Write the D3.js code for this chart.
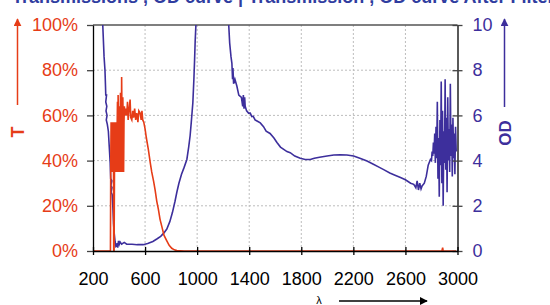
<!DOCTYPE html>
<html>
<head>
<meta charset="utf-8">
<script src="https://cdn.jsdelivr.net/npm/d3@7/dist/d3.min.js"></script>
<style>
  body { margin: 0; background: #fff; }
  svg { font-family: "Liberation Sans", Arial, sans-serif; }
</style>
</head>
<body>
<svg id="chart" width="550" height="305"></svg>
<script>
// wavelength ticks and axis labels
var xTicks = [200, 600, 1000, 1400, 1800, 2200, 2600, 3000]
var tTicks = [0, 0.2, 0.4, 0.6, 0.8, 1]
var odTicks = [0, 2, 4, 6, 8, 10]
var title = 'Transmissions , OD curve | Transmission , OD curve After Filter'

// transmission T (fraction)
var tLambda = [200, 334, 336, 339, 342, 345, 348, 351, 354, 357, 359, 362, 365, 368, 371, 374, 377, 380, 383, 386, 388, 390, 393, 396, 399, 402, 405, 408, 411, 414, 417, 420, 423, 426, 429, 432, 435, 438, 441, 446, 452, 459, 465, 470, 478, 485, 490, 498, 505, 512, 520, 528, 536, 545, 552, 562, 570, 576, 582, 590, 600, 610, 625, 640, 651, 665, 677, 690, 702, 715, 728, 745, 767, 785, 805, 825, 844, 900, 2880, 2886, 2890, 2990]
var tValue = [0, 0, 0.35, 0.57, 0.35, 0.57, 0.35, 0.57, 0.35, 0.57, 0, 0, 0.35, 0.57, 0.35, 0.57, 0.35, 0.57, 0.35, 0.57, 0.66, 0.35, 0.69, 0.57, 0.35, 0.64, 0.57, 0.35, 0.70, 0.58, 0.35, 0.77, 0.57, 0.35, 0.68, 0.57, 0.35, 0.57, 0.64, 0.60, 0.63, 0.60, 0.66, 0.58, 0.63, 0.67, 0.59, 0.58, 0.62, 0.59, 0.63, 0.58, 0.61, 0.57, 0.62, 0.61, 0.58, 0.62, 0.58, 0.57, 0.54, 0.50, 0.45, 0.39, 0.35, 0.31, 0.27, 0.22, 0.185, 0.14, 0.11, 0.07, 0.045, 0.025, 0.012, 0.005, 0.002, 0, 0, 0.015, 0, 0]

// optical density OD
var odLambda = [262, 275, 285, 292, 296, 298, 304, 298, 306, 300, 308, 302, 310, 318, 325, 332, 336, 345, 337, 346, 338, 347, 352, 358, 362, 370, 376, 382, 386, 390, 396, 402, 408, 420, 440, 459, 500, 540, 585, 620, 660, 690, 720, 745, 767, 790, 810, 830, 844, 860, 880, 900, 921, 935, 946, 955, 962, 967, 975, 980, 985, 992, 1000, 1230, 1238, 1250, 1260, 1267, 1272, 1275, 1280, 1290, 1305, 1320, 1340, 1350, 1355, 1360, 1365, 1369, 1380, 1395, 1408, 1420, 1431, 1445, 1460, 1485, 1510, 1530, 1560, 1590, 1613, 1640, 1665, 1690, 1715, 1750, 1792, 1830, 1869, 1900, 1940, 1998, 2050, 2100, 2150, 2202, 2250, 2305, 2350, 2400, 2433, 2480, 2520, 2562, 2600, 2640, 2664, 2680, 2690, 2700, 2710, 2720, 2728, 2745, 2760, 2775, 2792, 2800, 2805, 2810, 2815, 2820, 2825, 2830, 2835, 2840, 2845, 2850, 2855, 2860, 2865, 2870, 2875, 2880, 2885, 2890, 2895, 2900, 2905, 2910, 2915, 2920, 2925, 2930, 2935, 2940, 2945, 2950, 2955, 2960, 2965, 2970, 2975, 2980, 2985, 2990]
var odValue = [11, 10, 8.6, 8.0, 7.3, 6.9, 6.9, 6.6, 6.4, 6.2, 6.0, 5.8, 5.6, 5.3, 4.6, 3.9, 3.2, 3.1, 2.9, 2.8, 2.6, 2.5, 2.0, 1.2, 0.84, 0.4, 0.2, 0.23, 0.35, 0.15, 0.45, 0.3, 0.4, 0.3, 0.38, 0.3, 0.3, 0.28, 0.28, 0.33, 0.42, 0.53, 0.65, 0.8, 0.97, 1.3, 1.7, 2.2, 2.6, 3.0, 3.4, 3.7, 4.05, 4.6, 5.1, 5.7, 6.2, 6.56, 7.6, 8.4, 9.3, 10.2, 12, 12, 10.5, 9.2, 8.6, 8.3, 7.6, 8.1, 7.4, 7.6, 7.3, 6.9, 6.8, 6.4, 6.9, 6.3, 6.8, 6.4, 6.2, 6.1, 6.1, 5.95, 5.96, 5.8, 5.75, 5.67, 5.5, 5.3, 5.2, 5.0, 4.8, 4.6, 4.5, 4.4, 4.35, 4.2, 4.1, 4.05, 4.05, 4.1, 4.15, 4.2, 4.25, 4.26, 4.25, 4.2, 4.1, 3.98, 3.85, 3.7, 3.6, 3.45, 3.35, 3.25, 3.15, 3.0, 2.95, 2.8, 3.1, 2.7, 3.0, 2.75, 2.88, 3.0, 3.3, 3.8, 4.05, 4.0, 4.4, 4.2, 4.8, 4.3, 5.2, 3.9, 5.5, 4.1, 6.6, 3.2, 5.0, 2.4, 5.8, 3.8, 7.5, 3.0, 6.2, 2.0, 5.3, 3.9, 7.6, 3.6, 5.9, 2.6, 6.8, 4.0, 5.4, 3.5, 7.4, 4.2, 5.6, 3.3, 5.9, 4.1, 5.2, 3.4, 5.5, 4.4]

var red = '#e63c17'
var blue = '#3d2f9c'
var margin = { top: 25, right: 93, bottom: 53, left: 93 }
var width = 550, height = 305

var svg = d3.select('#chart')

var xScale = d3.scaleLinear()
  .domain([200, 3000])
  .range([margin.left, width - margin.right + 0.5])

var tScale = d3.scaleLinear()
  .domain([0, 1])
  .range([height - margin.bottom - 1, margin.top])

var odScale = d3.scaleLinear()
  .domain([0, 10])
  .range([height - margin.bottom - 1, margin.top])

var x0 = xScale.range()[0], x1 = xScale.range()[1]
var y0 = tScale.range()[0], y1 = tScale.range()[1]

// grid
var grid = svg.append('g').attr('class', 'grid')
  .style('stroke', '#bdbdbd').style('stroke-dasharray', '2,2')
grid.selectAll('.gx').data(xTicks.slice(1, -1)).enter().append('line')
  .attr('x1', d => xScale(d)).attr('x2', d => xScale(d))
  .attr('y1', y1).attr('y2', y0)
grid.selectAll('.gy').data(tTicks.slice(1, -1)).enter().append('line')
  .attr('x1', x0).attr('x2', x1)
  .attr('y1', d => tScale(d)).attr('y2', d => tScale(d))

// top border
svg.append('line')
  .attr('x1', x0).attr('x2', x1).attr('y1', y1).attr('y2', y1)
  .style('stroke', '#555').style('stroke-width', 1.5)

svg.append('clipPath').attr('id', 'plot')
  .append('rect').attr('x', x0).attr('y', y1).attr('width', x1 - x0).attr('height', y0 - y1)

// curves
var odLine = d3.line()
  .x((d, i) => xScale(odLambda[i]))
  .y(d => odScale(d))
var tLine = d3.line()
  .x((d, i) => xScale(tLambda[i]))
  .y(d => tScale(d))

var lines = svg.append('g').attr('clip-path', 'url(#plot)')
lines.append('path')
  .datum(odValue)
  .attr('d', odLine)
  .style('fill', 'none').style('stroke', blue).style('stroke-width', 1.6)
lines.append('path')
  .datum(tValue)
  .attr('d', tLine)
  .style('fill', 'none').style('stroke', red).style('stroke-width', 1.6)

// left axis (T)
var tAxis = d3.axisLeft(tScale)
  .tickValues(tTicks)
  .tickSize(6)
  .tickSizeOuter(0)
  .tickPadding(9)
  .tickFormat(d3.format('.0%'))
var gl = svg.append('g')
  .attr('transform', `translate(${x0},0)`)
  .call(tAxis)
gl.select('.domain').style('stroke', '#000').style('stroke-width', 1.3)
gl.selectAll('.tick line').style('stroke', '#444').style('stroke-width', 1.3)
gl.selectAll('.tick text')
  .style('font-size', '18px').style('fill', red)

// right axis (OD)
var odAxis = d3.axisRight(odScale)
  .tickValues(odTicks)
  .tickSize(5)
  .tickSizeOuter(0)
  .tickPadding(10)
var gr = svg.append('g')
  .attr('transform', `translate(${x1},0)`)
  .call(odAxis)
gr.select('.domain').style('stroke', '#000').style('stroke-width', 1.3)
gr.selectAll('.tick line').attr('x1', -5).style('stroke', '#444').style('stroke-width', 1.3)
gr.selectAll('.tick text')
  .style('font-size', '18px').style('fill', blue)

// bottom axis
var xAxis = d3.axisBottom(xScale)
  .tickValues(xTicks)
  .tickSize(4)
  .tickSizeOuter(0)
  .tickPadding(17)
  .tickFormat(d3.format('d'))
var gb = svg.append('g')
  .attr('transform', `translate(0,${y0})`)
  .call(xAxis)
gb.select('.domain').style('stroke', '#000').style('stroke-width', 1.3)
gb.selectAll('.tick line').attr('y1', -4).style('stroke', '#000').style('stroke-width', 1.3)
gb.selectAll('.tick text')
  .style('font-size', '18px').style('fill', '#000')

// arrow heads
var defs = svg.append('defs')
function marker(id, color) {
  defs.append('marker')
    .attr('id', id)
    .attr('viewBox', '0 0 10 10')
    .attr('refX', 9).attr('refY', 5)
    .attr('markerWidth', 8).attr('markerHeight', 8)
    .attr('markerUnits', 'userSpaceOnUse')
    .attr('orient', 'auto')
    .append('path').attr('d', 'M0,0L10,5L0,10z').style('fill', color)
}
marker('arrRed', red)
marker('arrBlue', blue)
marker('arrBlack', '#000')

// T label
svg.append('line')
  .attr('x1', 17.5).attr('x2', 17.5).attr('y1', 105).attr('y2', 19)
  .style('stroke', red).style('stroke-width', 1.5)
  .attr('marker-end', 'url(#arrRed)')
svg.append('text')
  .attr('transform', 'translate(24,132) rotate(-90)')
  .attr('text-anchor', 'middle')
  .style('font-size', '18px').style('font-weight', 'bold').style('fill', red)
  .text('T')

// OD label
svg.append('line')
  .attr('x1', 504.5).attr('x2', 504.5).attr('y1', 107).attr('y2', 19)
  .style('stroke', blue).style('stroke-width', 1.5)
  .attr('marker-end', 'url(#arrBlue)')
svg.append('text')
  .attr('transform', 'translate(510.5,133) rotate(-90)')
  .attr('text-anchor', 'middle')
  .style('font-size', '17px').style('font-weight', 'bold').style('fill', blue)
  .text('OD')

// lambda label
svg.append('text')
  .attr('x', 319).attr('y', 303.5)
  .attr('text-anchor', 'middle')
  .style('font-size', '11px').style('fill', '#000')
  .text('λ')
svg.append('line')
  .attr('x1', 339).attr('x2', 427).attr('y1', 301).attr('y2', 301)
  .style('stroke', '#000').style('stroke-width', 1.3)
  .attr('marker-end', 'url(#arrBlack)')

// title, cut off at the top edge
svg.append('text')
  .attr('x', 12).attr('y', 3)
  .style('font-size', '18px').style('font-weight', 'bold').style('fill', '#2f3da0')
  .text(title)
</script>
</body>
</html>
